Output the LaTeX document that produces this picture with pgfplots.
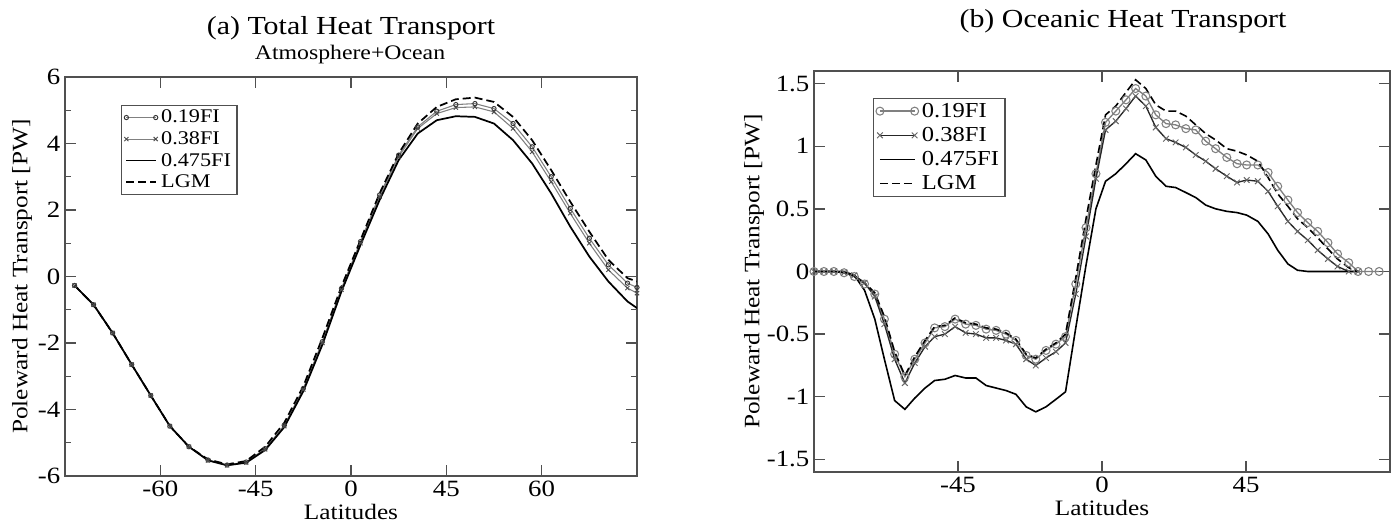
\documentclass[border=0pt]{standalone}
\usepackage{fontspec}
\setmainfont{Liberation Serif}[FakeStretch=1.15]
\usepackage{pgfplots}
\pgfplotsset{compat=1.18}
\definecolor{axgray}{HTML}{505050}
\definecolor{midgray}{HTML}{808080}
\begin{document}
\begin{tikzpicture}
\path[use as bounding box] (0pt,0pt) rectangle (1047.75pt,392.25pt);
\pgfplotsset{
  common/.style={
    scale only axis, anchor=south west,
    axis line style={axgray, line width=1pt},
    every tick/.style={axgray, line width=1pt},
    major tick length=8pt, minor tick length=4.5pt,
    tick align=inside, tick pos=both,
    /pgf/number format/assume math mode=true,
    tick label style={font=\fontsize{17.5}{17.5}\selectfont},
    label style={font=\fontsize{16.5}{17}\selectfont},
    legend cell align=left,
    legend image code/.code={\draw[mark repeat=2,mark phase=1] plot coordinates {(0pt,0pt) (11pt,0pt) (22pt,0pt)};},
    legend style={draw=axgray, line width=0.8pt, font=\fontsize{14.5}{14.5}\selectfont, inner sep=2pt, row sep=2pt,
      nodes={inner ysep=1.5pt, inner xsep=2.5pt}},
  }
}
% ---------------- (a) ----------------
\begin{axis}[common, at={(48.75pt,35.25pt)}, width=429pt, height=299.25pt,
  xmin=-90, xmax=90, ymin=-6, ymax=6,
  xtick={-60,-30,0,30,60}, xticklabels={-60,-45,0,45,60},
  ytick={-6,-4,-2,0,2,4,6}, yticklabels={-6,-4,-2,0,2,4,6},
  minor ytick={-5,-3,-1,1,3,5},
  xlabel={Latitudes}, ylabel={Poleward Heat Transport [PW]},
  xlabel style={at={(axis description cs:0.5,-0.09)}, anchor=center},
  ylabel style={at={(axis description cs:-0.0752,0.5)}, anchor=center},
  legend style={at={(0.098,0.930)}, anchor=north west},
]
\addplot[midgray, line width=0.8pt, mark=o, mark size=1.6pt, mark options={solid, line width=0.7pt, draw=black!80}] table {
-87 -0.27
-81 -0.85
-75 -1.70
-69 -2.65
-63 -3.58
-57 -4.50
-51 -5.12
-45 -5.52
-39 -5.67
-33 -5.58
-27 -5.18
-21 -4.48
-15 -3.37
-9 -1.96
-3 -0.36
3 1.05
9 2.45
15 3.65
21 4.5
27 4.97
33 5.17
39 5.2
45 5.05
51 4.6
57 3.9
63 3.0
69 2.05
75 1.15
81 0.35
87 -0.2
90 -0.33
};
\addlegendentry{0.19FI}
\addplot[midgray, line width=0.8pt, mark=x, mark size=2.2pt, mark options={solid, line width=0.7pt, draw=black!70}] table {
-87 -0.27
-81 -0.85
-75 -1.70
-69 -2.65
-63 -3.58
-57 -4.50
-51 -5.12
-45 -5.53
-39 -5.68
-33 -5.60
-27 -5.20
-21 -4.50
-15 -3.40
-9 -2.00
-3 -0.40
3 1.0
9 2.4
15 3.6
21 4.45
27 4.9
33 5.08
39 5.1
45 4.95
51 4.45
57 3.75
63 2.85
69 1.9
75 1.0
81 0.2
87 -0.35
90 -0.5
};
\addlegendentry{0.38FI}
\addplot[black, line width=1.3pt] table {
-87 -0.27
-81 -0.85
-75 -1.70
-69 -2.65
-63 -3.58
-57 -4.50
-51 -5.12
-45 -5.53
-39 -5.68
-33 -5.60
-27 -5.22
-21 -4.53
-15 -3.45
-9 -2.05
-3 -0.45
3 0.95
9 2.3
15 3.5
21 4.3
27 4.7
33 4.82
39 4.8
45 4.6
51 4.1
57 3.4
63 2.5
69 1.5
75 0.6
81 -0.15
87 -0.75
90 -0.95
};
\addlegendentry{0.475FI}
\addplot[black, line width=1.3pt, dashed, dash pattern=on 6pt off 3pt] table {
-87 -0.27
-81 -0.85
-75 -1.70
-69 -2.65
-63 -3.58
-57 -4.50
-51 -5.12
-45 -5.50
-39 -5.65
-33 -5.55
-27 -5.12
-21 -4.40
-15 -3.30
-9 -1.85
-3 -0.30
3 1.1
9 2.5
15 3.7
21 4.6
27 5.1
33 5.33
39 5.38
45 5.25
51 4.8
57 4.1
63 3.2
69 2.25
75 1.35
81 0.5
87 -0.05
90 -0.15
};
\addlegendentry{LGM}
\end{axis}
% ---------------- (b) ----------------
\begin{axis}[common, at={(610.5pt,38.25pt)}, width=432pt, height=300.75pt,
  xmin=-90, xmax=90, ymin=-1.6, ymax=1.6,
  xtick={-45,0,45}, xticklabels={-45,0,45},
  ytick={-1.5,-1,-0.5,0,0.5,1,1.5}, yticklabels={-1.5,-1,-0.5,0,0.5,1,1.5},
  xlabel={Latitudes}, ylabel={Poleward Heat Transport [PW]},
  xlabel style={at={(axis description cs:0.5,-0.09)}, anchor=center},
  ylabel style={at={(axis description cs:-0.104,0.5)}, anchor=center},
  legend style={at={(0.102,0.933)}, anchor=north west, font=\fontsize{16}{16}\selectfont, row sep=3pt},
  legend image code/.code={\draw[mark repeat=2,mark phase=1] plot coordinates {(0pt,0pt) (13pt,0pt) (26pt,0pt)};},
]
\addplot[midgray, line width=1pt, mark=o, mark size=3pt, mark options={solid, line width=0.8pt, draw=midgray}] table {
-90 0
-86.9 0
-83.8 0
-80.6 -0.01
-77.4 -0.04
-74.2 -0.10
-71 -0.18
-68 -0.38
-64.8 -0.66
-61.6 -0.84
-58.5 -0.70
-55.3 -0.57
-52.3 -0.45
-49.1 -0.44
-45.9 -0.38
-42.6 -0.42
-39.4 -0.43
-36.2 -0.46
-33.1 -0.47
-30 -0.50
-26.9 -0.55
-23.7 -0.67
-20.7 -0.70
-17.5 -0.63
-14.4 -0.58
-11.4 -0.52
-8.2 -0.10
-5 0.35
-1.9 0.78
1.1 1.19
4.3 1.28
7.5 1.37
10.5 1.46
13.7 1.40
16.8 1.25
20 1.18
23 1.17
26.2 1.14
29.3 1.13
32.4 1.04
35.5 0.98
39 0.91
42.2 0.86
45.2 0.85
48.7 0.85
51.9 0.79
54.9 0.68
58.1 0.57
61.1 0.47
64.3 0.39
67.4 0.32
70.6 0.23
73.6 0.14
77.1 0.07
80 0
83.3 0
86.6 0
};
\addlegendentry{0.19FI}
\addplot[black!85, line width=1pt, mark=x, mark size=3pt, mark options={solid, line width=0.7pt, draw=black!60}] table {
-90 0
-86.9 0
-83.8 0
-80.6 -0.01
-77.4 -0.03
-74.2 -0.09
-71 -0.20
-68 -0.42
-64.8 -0.70
-61.6 -0.89
-58.5 -0.73
-55.3 -0.60
-52.3 -0.52
-49.1 -0.50
-45.9 -0.44
-42.6 -0.49
-39.4 -0.50
-36.2 -0.53
-33.1 -0.53
-30 -0.55
-26.9 -0.58
-23.7 -0.70
-20.7 -0.75
-17.5 -0.69
-14.4 -0.64
-11.4 -0.57
-8.2 -0.18
-5 0.28
-1.9 0.74
1.1 1.13
4.3 1.20
7.5 1.30
10.5 1.40
13.7 1.32
16.8 1.15
20 1.06
23 1.03
26.2 0.99
29.3 0.93
32.4 0.88
35.5 0.82
39 0.76
42.2 0.71
45.2 0.73
48.7 0.72
51.9 0.64
54.9 0.52
58.1 0.40
61.1 0.32
64.3 0.25
67.4 0.17
70.6 0.10
73.6 0.04
77.1 0
80 0
};
\addlegendentry{0.38FI}
\addplot[black, line width=1.2pt] table {
-90 0
-86.9 0
-83.8 0
-80.6 0
-77.4 -0.03
-74.2 -0.15
-71 -0.38
-68 -0.70
-64.8 -1.03
-61.6 -1.10
-58.5 -1.01
-55.3 -0.93
-52.3 -0.87
-49.1 -0.86
-45.9 -0.83
-42.6 -0.85
-39.4 -0.85
-36.2 -0.91
-33.1 -0.93
-30 -0.95
-26.9 -0.98
-23.7 -1.08
-20.7 -1.12
-17.5 -1.08
-14.4 -1.02
-11.4 -0.96
-8.2 -0.45
-5 0.05
-1.9 0.50
1.1 0.72
4.3 0.78
7.5 0.86
10.5 0.94
13.7 0.89
16.8 0.76
20 0.68
23 0.67
26.2 0.63
29.3 0.59
32.4 0.53
35.5 0.50
39 0.48
42.2 0.47
45.2 0.45
48.7 0.40
51.9 0.30
54.9 0.17
58.1 0.06
61.1 0.01
64.3 0
70 0
80 0
};
\addlegendentry{0.475FI}
\addplot[black, line width=1.2pt, dashed, dash pattern=on 6pt off 3pt] table {
-90 0
-86.9 0
-83.8 0
-80.6 -0.01
-77.4 -0.04
-74.2 -0.09
-71 -0.17
-68 -0.36
-64.8 -0.64
-61.6 -0.83
-58.5 -0.68
-55.3 -0.55
-52.3 -0.44
-49.1 -0.43
-45.9 -0.37
-42.6 -0.41
-39.4 -0.42
-36.2 -0.45
-33.1 -0.46
-30 -0.49
-26.9 -0.54
-23.7 -0.66
-20.7 -0.69
-17.5 -0.62
-14.4 -0.57
-11.4 -0.50
-8.2 -0.05
-5 0.42
-1.9 0.85
1.1 1.25
4.3 1.32
7.5 1.43
10.5 1.53
13.7 1.46
16.8 1.33
20 1.28
23 1.28
26.2 1.24
29.3 1.17
32.4 1.10
35.5 1.05
39 0.98
42.2 0.96
45.2 0.93
48.7 0.88
51.9 0.75
54.9 0.62
58.1 0.52
61.1 0.42
64.3 0.35
67.4 0.27
70.6 0.18
73.6 0.10
77.1 0.03
80 0
};
\addlegendentry{LGM}
\end{axis}
% titles
\node[font=\fontsize{19.5}{19.5}\selectfont] at (263.25pt,371pt) {(a) Total Heat Transport};
\node[font=\fontsize{15.5}{15.5}\selectfont] at (262.5pt,351.5pt) {Atmosphere+Ocean};
\node[font=\fontsize{19.5}{19.5}\selectfont] at (842.25pt,376pt) {(b) Oceanic Heat Transport};
\end{tikzpicture}
\end{document}
